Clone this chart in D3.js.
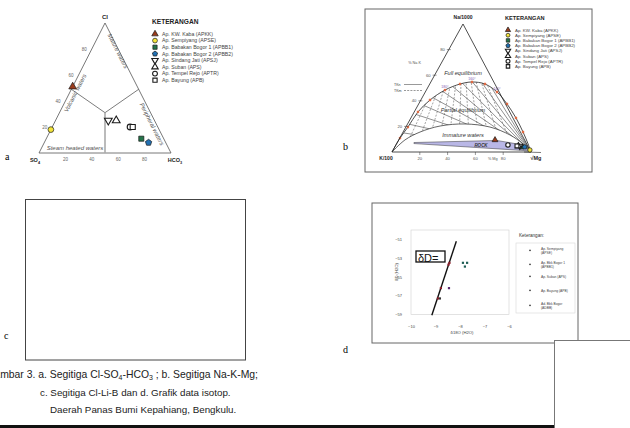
<!DOCTYPE html>
<html>
<head>
<meta charset="utf-8">
<script src="https://cdn.jsdelivr.net/npm/d3@7"></script>
<style>
  body { margin: 0; background: #fff; }
  svg { display: block; font-family: "Liberation Sans", Arial, sans-serif; }
</style>
</head>
<body>
<div id="chart"></div>
<script>
// ---- legend / stations (panels a and b)
const stationNames = [
  "Ap. KW. Kaba (APKK)", "Ap. Sempiyang (APSE)", "Ap. Babakan Bogor 1 (APBB1)",
  "Ap. Babakan Bogor 2 (APBB2)", "Ap. Sindang Jati (APSJ)", "Ap. Suban (APS)",
  "Ap. Tempel Rejo (APTR)", "Ap. Bayung (APB)"
];
const markerShape = ["triangle", "circle", "square", "pentagon", "tdown", "triangle", "circle", "square"];
const markerFill = ["#9a3b1b", "#f3e43a", "#24744a", "#2271b3", "#fff", "#fff", "#fff", "#fff"];

// ---- panel a : Cl - SO4 - HCO3 (%)
const aCl   = [51, 18, 11, 8, 25, 25, 20, 20];
const aSO4  = [49, 82, 17, 13, 35, 29, 21, 19];
const aHCO3 = [0, 0, 72, 79, 40, 46, 59, 61];
const aTicks = [20, 40, 60, 80];
// zone boundaries [Cl, SO4, HCO3]
const aZoneCenter = [31, 34.5, 34.5];
const aZoneEnds = [[49, 51, 0], [49, 0, 51]];
const aZoneBottom = [0, 50, 50];

// ---- panel b : Na/1000 - K/100 - sqrt(Mg) (%)
const bNa = [9.4, 1.6, 3.9, 3.9, 4.7, 4.7, 5.5, 4.7];
const bMg = [69.3, 98.4, 91.5, 93.5, 89.5, 88.5, 80.6, 87.5];
const bTicks = [20, 40, 60, 80];
const fullEqNa = [0, 10.9, 19.5, 31.3, 40.6, 48.4, 53.1, 54.7, 53.1, 46.9, 37.5, 26.6, 15.6, 6.3, 0];
const fullEqMg = [0, 0.2, 1.5, 2.7, 6.6, 13.4, 21.8, 29.6, 39.8, 51.6, 63.6, 75.6, 86.3, 94.7, 100];
const immatureNa = [0, 9.4, 15.6, 20.3, 21.9, 19.5, 13.3, 7, 0];
const immatureMg = [0, 4.5, 12.2, 24.2, 41.3, 60.5, 78.1, 89.9, 100];
const rockNa = [7.4, 9.0, 6.6, 0.8, 6.6];
const rockMg = [12.0, 70.9, 85.1, 99.6, 12.4];
const tknRatios = [15, 22, 30, 38, 46, 54, 62, 70, 78, 86, 93];   // Na/(Na+K) lines to Mg corner
const tkmRatios = [8, 16, 24, 32, 40, 48, 56, 64, 72, 80, 88];    // Mg/(Mg+K) lines to Na apex
const tempLabels = ["180°", "160°", "140°"];
const tempIdx = [5, 7, 9];

// ---- panel d : isotopes
const dLegendNames = [["Ap. Sempiyang", "(APSE)"], ["Ap. Bbk Bogor 1", "(APBB1)"], ["Ap. Suban (APS)"], ["Ap. Bayung (APB)"], ["Ad. Bbk Bogor", "(ADBB)"]];
const dO18 = [-8.47, -8.43, -8.78, -8.9, -8.45, -7.88, -7.8, -7.71, -8.82];
const dDeut = [-53.7, -53.5, -56.2, -57.3, -56.2, -53.5, -53.9, -53.5, -57.3];
const dColor = ["#8b1e2a", "#8b1e2a", "#8b1e2a", "#8b1e2a", "#5a2a6e", "#1f5e55", "#1f5e55", "#1f5e55", "#333"];
const dXTicks = [-10, -9, -8, -7, -6];
const dYTicks = [-51, -53, -55, -57, -59];
const mwlO18 = [-9.15, -8.15];
const mwlD = [-59.1, -51.2];

const W = 630, H = 428;
const svg = d3.select("#chart").append("svg").attr("width", W).attr("height", H);

// pentagon symbol for d3.symbol
const symbolPentagon = {
  draw(ctx, size) {
    const r = Math.sqrt(size / 2.378);
    for (let i = 0; i < 5; i++) {
      const a = -Math.PI / 2 + i * 2 * Math.PI / 5;
      if (i === 0) ctx.moveTo(r * Math.cos(a), r * Math.sin(a));
      else ctx.lineTo(r * Math.cos(a), r * Math.sin(a));
    }
    ctx.closePath();
  }
};
const symTypes = { triangle: d3.symbolTriangle, tdown: d3.symbolTriangle, circle: d3.symbolCircle, square: d3.symbolSquare, pentagon: symbolPentagon };

function marker(g, i, x, y, size) {
  const filled = markerFill[i] !== "#fff";
  g.append("path")
    .attr("d", d3.symbol().type(symTypes[markerShape[i]]).size(size)())
    .attr("transform", `translate(${x},${y})` + (markerShape[i] === "tdown" ? " rotate(180)" : ""))
    .attr("fill", markerFill[i])
    .attr("stroke", "#1a1a1a")
    .attr("stroke-width", filled ? 0.7 : 1.1);
}

function legend(g, x, y, step, fs, msize, title, tfs) {
  g.append("text").attr("x", x - 3).attr("y", y).attr("font-size", tfs).attr("font-weight", "bold")
    .attr("fill", "#222").text(title);
  stationNames.forEach((s, i) => {
    const yy = y + 10 + i * step;
    marker(g, i, x, yy, msize);
    g.append("text").attr("x", x + 7).attr("y", yy + fs * 0.36).attr("font-size", fs).attr("fill", "#444").text(s);
  });
}

// ================= panel a =================
const ga = svg.append("g");
const aX = d3.scaleLinear().domain([0, 100]).range([39, 171]);
const aY = d3.scaleLinear().domain([0, 100]).range([153, 23]);
const aPos = (cl, so4, hco3) => {
  const t = cl + so4 + hco3, c = cl / t * 100, h = hco3 / t * 100;
  return [aX(h + c / 2), aY(c)];
};
const line = d3.line();
ga.append("path").attr("d", line([aPos(100, 0, 0), aPos(0, 100, 0), aPos(0, 0, 100)]) + "Z")
  .attr("fill", "none").attr("stroke", "#555").attr("stroke-width", 0.8);
aZoneEnds.forEach(e => {
  ga.append("path").attr("d", line([aPos(...aZoneCenter), aPos(...e)]))
    .attr("stroke", "#444").attr("stroke-width", 0.7).attr("fill", "none");
});
ga.append("path").attr("d", line([aPos(...aZoneCenter), aPos(...aZoneBottom)]))
  .attr("stroke", "#aaa").attr("stroke-width", 1.6).attr("fill", "none");

aTicks.forEach(t => {
  const [bx, by] = aPos(0, 100 - t, t);
  ga.append("text").attr("x", bx).attr("y", by + 8).attr("text-anchor", "middle")
    .attr("font-size", 4.5).attr("fill", "#666").text(t);
  const [lx, ly] = aPos(t, 100 - t, 0);
  ga.append("text").attr("x", lx - 5).attr("y", ly + 1.5).attr("text-anchor", "end")
    .attr("font-size", 4.5).attr("fill", "#666").text(t);
});
ga.append("text").attr("x", aX(50)).attr("y", aY(100) - 4).attr("text-anchor", "middle")
  .attr("font-size", 6).attr("font-weight", "bold").attr("fill", "#222").text("Cl");
const so4 = ga.append("text").attr("x", aX(0) - 4).attr("y", aY(0) + 9).attr("text-anchor", "middle")
  .attr("font-size", 5.5).attr("font-weight", "bold").attr("fill", "#222");
so4.append("tspan").text("SO");
so4.append("tspan").attr("font-size", 3.8).attr("dy", 1.5).text("4");
const hco3 = ga.append("text").attr("x", aX(100) + 4).attr("y", aY(0) + 9).attr("text-anchor", "middle")
  .attr("font-size", 5.5).attr("font-weight", "bold").attr("fill", "#222");
hco3.append("tspan").text("HCO");
hco3.append("tspan").attr("font-size", 3.8).attr("dy", 1.5).text("3");

const zoneText = (x, y, rot, txt) => ga.append("text")
  .attr("transform", `translate(${x},${y}) rotate(${rot})`).attr("text-anchor", "middle")
  .attr("font-size", 6).attr("font-style", "italic").attr("fill", "#555").text(txt);
zoneText(116, 52, 63, "Mature waters");
zoneText(77, 94, -63, "Volcanic waters");
zoneText(150, 125, 63, "Peripheral waters");
zoneText(75, 150, 0, "Steam heated waters");

stationNames.forEach((s, i) => {
  const [x, y] = aPos(aCl[i], aSO4[i], aHCO3[i]);
  marker(ga, i, x, y, 26);
});
legend(ga, 155, 24, 6.6, 5.2, 18, "KETERANGAN", 6.6);
svg.append("text").attr("x", 5).attr("y", 160).attr("font-family", "Liberation Serif")
  .attr("font-size", 10).text("a");

// ================= panel b =================
const gb = svg.append("g");
gb.append("rect").attr("x", 365).attr("y", 9).attr("width", 227).attr("height", 163)
  .attr("fill", "#fff").attr("stroke", "#666").attr("stroke-width", 1);
const bX = d3.scaleLinear().domain([0, 100]).range([392, 531]);
const bY = d3.scaleLinear().domain([0, 100]).range([152, 24]);
const bApex = bX.invert(463);
const bPos = (na, mg) => [bX(mg + na * bApex / 100), bY(na)];
const smooth = d3.line().curve(d3.curveCatmullRom.alpha(0.5));

const fullPts = fullEqNa.map((n, i) => bPos(n, fullEqMg[i]));
const lowPts = immatureNa.map((n, i) => bPos(n, immatureMg[i]));
const zonePath = smooth(fullPts) + "L" + smooth(lowPts.slice().reverse()).slice(1) + "Z";
gb.append("clipPath").attr("id", "zone").append("path").attr("d", zonePath);

// rock polygon
gb.append("path").attr("d", line(rockNa.map((n, i) => bPos(n, rockMg[i]))) + "Z")
  .attr("fill", "#b9b7e6").attr("stroke", "#333").attr("stroke-width", 0.5);

const mesh = gb.append("g").attr("clip-path", "url(#zone)");
tknRatios.forEach(q => {
  mesh.append("path").attr("d", line([bPos(0, 100), bPos(q, 0)]))
    .attr("stroke", "#222").attr("stroke-width", 0.5).attr("fill", "none");
});
tkmRatios.forEach(r => {
  mesh.append("path").attr("d", line([bPos(100, 0), bPos(0, r)]))
    .attr("stroke", "#333").attr("stroke-width", 0.45).attr("stroke-dasharray", "2,1.5").attr("fill", "none");
});
gb.append("path").attr("d", smooth(fullPts)).attr("fill", "none").attr("stroke", "#222").attr("stroke-width", 0.8);
gb.append("path").attr("d", smooth(lowPts)).attr("fill", "none").attr("stroke", "#222").attr("stroke-width", 0.7);
fullPts.slice(1, -2).forEach(p => {
  gb.append("path").attr("d", d3.symbol().type(d3.symbolCross).size(5)())
    .attr("transform", `translate(${p[0]},${p[1]}) rotate(45)`).attr("fill", "#e2663c");
});
tempIdx.forEach((k, j) => {
  gb.append("text").attr("x", fullPts[k][0]).attr("y", fullPts[k][1] - 2).attr("text-anchor", "middle")
    .attr("font-size", 3.5).attr("fill", "#7a5cb0").text(tempLabels[j]);
});

gb.append("path").attr("d", line([bPos(100, 0), bPos(0, 0), bPos(0, 100)]) + "Z")
  .attr("fill", "none").attr("stroke", "#222").attr("stroke-width", 0.8);
gb.append("path").attr("d", line([bPos(0, 95), [bX(100) + 10, bY(0) + 0.5]]))
  .attr("stroke", "#222").attr("stroke-width", 0.6);

bTicks.forEach(t => {
  const [bx, by] = bPos(0, t);
  gb.append("line").attr("x1", bx).attr("x2", bx).attr("y1", by).attr("y2", by + 3).attr("stroke", "#333").attr("stroke-width", 0.5);
  gb.append("text").attr("x", bx).attr("y", by + 8).attr("text-anchor", "middle")
    .attr("font-size", 4.2).attr("fill", "#555").text(t);
  const [lx, ly] = bPos(t, 0);
  gb.append("line").attr("x1", lx - 2).attr("x2", lx + 2).attr("y1", ly).attr("y2", ly).attr("stroke", "#333").attr("stroke-width", 0.5);
  gb.append("text").attr("x", lx - 4).attr("y", ly + 1.5).attr("text-anchor", "end")
    .attr("font-size", 4.2).attr("fill", "#555").text(t);
});
gb.append("text").attr("x", bX(69)).attr("y", bY(0) + 8).attr("font-size", 3.8).attr("fill", "#555").text("% Mg");
gb.append("text").attr("x", 421).attr("y", 64).attr("text-anchor", "end").attr("font-size", 3.8).attr("fill", "#555").text("% Na K");
gb.append("text").attr("x", 463).attr("y", 19).attr("text-anchor", "middle").attr("font-size", 5).attr("font-weight", "bold").attr("fill", "#222").text("Na/1000");
gb.append("text").attr("x", 386).attr("y", 160).attr("text-anchor", "middle").attr("font-size", 5).attr("font-weight", "bold").attr("fill", "#222").text("K/100");
gb.append("text").attr("x", 536).attr("y", 160).attr("text-anchor", "middle").attr("font-size", 5.5).attr("font-weight", "bold").attr("fill", "#222").text("√Mg");
gb.append("text").attr("x", 394).attr("y", 86).attr("font-size", 3.6).attr("fill", "#444").text("TKn");
gb.append("line").attr("x1", 404).attr("x2", 422).attr("y1", 84.5).attr("y2", 84.5).attr("stroke", "#333").attr("stroke-width", 0.5);
gb.append("text").attr("x", 394).attr("y", 92).attr("font-size", 3.6).attr("fill", "#444").text("TKm");
gb.append("line").attr("x1", 404).attr("x2", 422).attr("y1", 90.5).attr("y2", 90.5).attr("stroke", "#333").attr("stroke-width", 0.5).attr("stroke-dasharray", "2,1.2");

const bText = (x, y, txt, fs) => gb.append("text").attr("x", x).attr("y", y).attr("text-anchor", "middle")
  .attr("font-size", fs).attr("font-style", "italic").attr("fill", "#333").text(txt);
bText(463, 75, "Full equilibrium", 5.6);
bText(463, 112, "Partial equilibrium", 5.6);
bText(463, 137, "Immature waters", 5.6);
gb.append("text").attr("x", 481).attr("y", 147).attr("text-anchor", "middle").attr("font-size", 4.5)
  .attr("font-style", "italic").attr("font-weight", "bold").attr("fill", "#333").text("ROCK");

stationNames.forEach((s, i) => {
  const [x, y] = bPos(bNa[i], bMg[i]);
  marker(gb, i, x, y, 15);
});
legend(gb, 508, 20, 5.2, 4.4, 12, "KETERANGAN", 5.6);
svg.append("text").attr("x", 343).attr("y", 150).attr("font-family", "Liberation Serif")
  .attr("font-size", 10).text("b");

// ================= panel c =================
svg.append("rect").attr("x", 25.5).attr("y", 199.5).attr("width", 220).attr("height", 160.5)
  .attr("fill", "#fff").attr("stroke", "#444").attr("stroke-width", 1);
svg.append("text").attr("x", 4).attr("y", 339).attr("font-family", "Liberation Serif")
  .attr("font-size", 10).text("c");

// ================= panel d =================
const gd = svg.append("g");
gd.append("rect").attr("x", 372).attr("y", 203).attr("width", 206).attr("height", 140)
  .attr("fill", "#fff").attr("stroke", "#666").attr("stroke-width", 1);
const dX = d3.scaleLinear().domain([-10, -6]).range([411, 509]);
const dY = d3.scaleLinear().domain([-50, -59]).range([230, 314.4]);
gd.append("rect").attr("x", dX(-10)).attr("y", dY(-50)).attr("width", dX(-6) - dX(-10)).attr("height", dY(-59) - dY(-50))
  .attr("fill", "none").attr("stroke", "#d0d0d0").attr("stroke-width", 0.6);
const xAxis = gd.append("g").attr("transform", `translate(0,${dY(-59) + 8})`)
  .call(d3.axisBottom(dX).tickValues(dXTicks).tickSize(0).tickFormat(d3.format("d")));
const yAxis = gd.append("g").attr("transform", `translate(${dX(-10) - 6},0)`)
  .call(d3.axisLeft(dY).tickValues(dYTicks).tickSize(0).tickFormat(d3.format("d")));
[xAxis, yAxis].forEach(ax => {
  ax.select(".domain").remove();
  ax.selectAll("text").attr("font-size", 4).attr("fill", "#444").attr("font-family", "Liberation Sans");
});
gd.append("text").attr("x", 462).attr("y", 334).attr("text-anchor", "middle").attr("font-size", 4.2).attr("fill", "#444").text("δ18O (H2O)");
gd.append("text").attr("transform", "translate(398,272) rotate(-90)").attr("text-anchor", "middle").attr("font-size", 4.2).attr("fill", "#444").text("δD (H2O)");

gd.append("path").attr("d", d3.line().x(d => dX(d[0])).y(d => dY(d[1]))(mwlO18.map((v, i) => [v, mwlD[i]])))
  .attr("stroke", "#111").attr("stroke-width", 1.4).attr("fill", "none");
dO18.forEach((v, i) => {
  gd.append("rect").attr("x", dX(v) - 1.1).attr("y", dY(dDeut[i]) - 1.1).attr("width", 2.2).attr("height", 2.2)
    .attr("fill", dColor[i]);
});
gd.append("rect").attr("x", 416).attr("y", 251).attr("width", 29).attr("height", 11)
  .attr("fill", "#fff").attr("stroke", "#111").attr("stroke-width", 1.3);
gd.append("text").attr("x", 418).attr("y", 262).attr("font-size", 11).attr("fill", "#111").text("δD=");

gd.append("text").attr("x", 519).attr("y", 237).attr("font-size", 4.6).attr("fill", "#333").text("Keterangan:");
gd.append("rect").attr("x", 516).attr("y", 243).attr("width", 59).attr("height", 70)
  .attr("fill", "none").attr("stroke", "#d8d8d8").attr("stroke-width", 0.6);
const dLegY = [251, 265, 277, 291, 306];
dLegendNames.forEach((lines, i) => {
  gd.append("rect").attr("x", 529.3).attr("y", dLegY[i] - 1.3).attr("width", 1.4).attr("height", 1.4).attr("fill", "#222");
  lines.forEach((t, j) => {
    gd.append("text").attr("x", 541).attr("y", dLegY[i] + 0.5 + j * 4 - (lines.length - 1) * 1.5)
      .attr("font-size", 3.3).attr("fill", "#444").text(t);
  });
});
svg.append("text").attr("x", 343).attr("y", 353).attr("font-family", "Liberation Serif")
  .attr("font-size", 10).text("d");

// overlapping frame at the bottom right
svg.append("rect").attr("x", 554.5).attr("y", 340.5).attr("width", 100).attr("height", 100)
  .attr("fill", "#fff").attr("stroke", "#777").attr("stroke-width", 1);

// ================= caption =================
const cap1 = svg.append("text").attr("x", 258).attr("y", 378).attr("text-anchor", "end")
  .attr("font-size", 10.4).attr("fill", "#222");
cap1.append("tspan").text("Gambar 3. a. Segitiga Cl-SO");
cap1.append("tspan").attr("font-size", 7).attr("dy", 2).text("4");
cap1.append("tspan").attr("dy", -2).text("-HCO");
cap1.append("tspan").attr("font-size", 7).attr("dy", 2).text("3");
cap1.append("tspan").attr("dy", -2).text(" ; b. Segitiga Na-K-Mg;");
svg.append("text").attr("x", 40).attr("y", 396).attr("font-size", 9.8).attr("fill", "#222")
  .text("c. Segitiga Cl-Li-B dan d. Grafik data isotop.");
svg.append("text").attr("x", 50).attr("y", 413).attr("font-size", 9.8).attr("fill", "#222")
  .text("Daerah Panas Bumi Kepahiang, Bengkulu.");
svg.append("rect").attr("x", 0).attr("y", 425).attr("width", 554).attr("height", 3).attr("fill", "#111");
</script>
</body>
</html>
